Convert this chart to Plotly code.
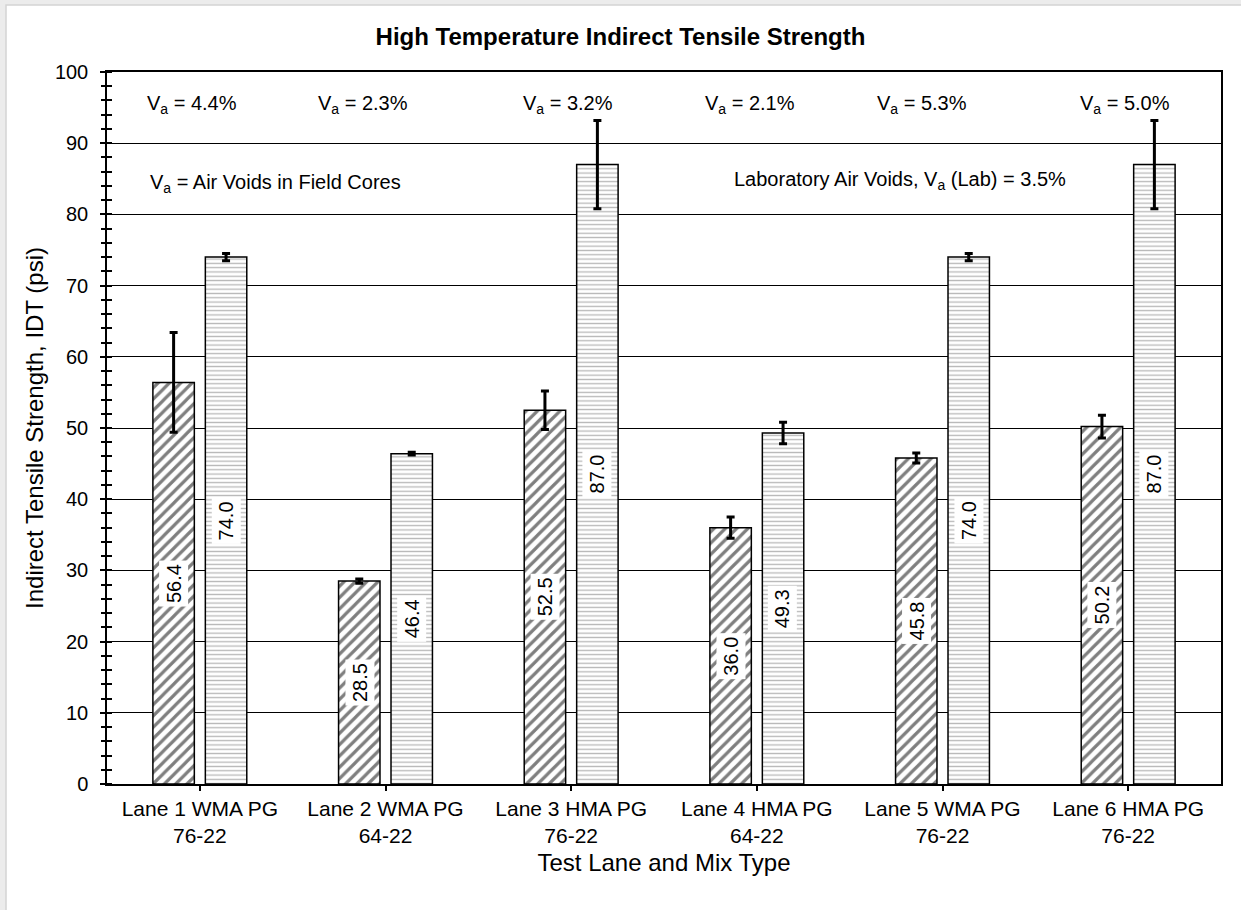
import plotly.graph_objects as go

# Lanes and mix types (two-line category labels)
lanes = [
    "Lane 1 WMA PG<br>76-22",
    "Lane 2 WMA PG<br>64-22",
    "Lane 3 HMA PG<br>76-22",
    "Lane 4 HMA PG<br>64-22",
    "Lane 5 WMA PG<br>76-22",
    "Lane 6 HMA PG<br>76-22",
]

# IDT of field cores (hatched) and lab-compacted specimens (horizontal lines), psi
field_idt = [56.4, 28.5, 52.5, 36.0, 45.8, 50.2]
field_err = [7.0, 0.3, 2.7, 1.5, 0.7, 1.6]
lab_idt = [74.0, 46.4, 87.0, 49.3, 74.0, 87.0]
lab_err = [0.5, 0.2, 6.2, 1.5, 0.5, 6.2]

# Air voids of field cores per lane
field_voids = ["4.4%", "2.3%", "3.2%", "2.1%", "5.3%", "5.0%"]
void_label_shift = [-8, -23, -3, -7, -21, -3]

FONT = "Liberation Sans, Arial, sans-serif"
INK = "#000000"

# plot-area geometry in pixels (used for the page frame)
W, H = 1241, 910
ML, MR, MT, MB = 107, 20, 72, 126
PW, PH = W - ML - MR, H - MT - MB


def px_to_paper_x(px):
    return (px - ML) / PW


def px_to_paper_y(py):
    return (H - MB - py) / PH


fig = go.Figure()

fig.add_trace(go.Bar(
    x=lanes, y=field_idt, name="Field cores",
    marker=dict(
        color="white",
        line=dict(color=INK, width=1.5),
        pattern=dict(shape="/", fgcolor=INK, bgcolor="white", size=8, solidity=0.4),
    ),
    error_y=dict(type="data", array=field_err, color=INK, thickness=3, width=4),
    showlegend=False,
))
fig.add_trace(go.Bar(
    x=lanes, y=lab_idt, name="Lab specimens",
    marker=dict(
        color="white",
        line=dict(color=INK, width=1.5),
        pattern=dict(shape="-", fgcolor="#707070", bgcolor="white", size=4.3, solidity=0.3),
    ),
    error_y=dict(type="data", array=lab_err, color=INK, thickness=3, width=4),
    showlegend=False,
))
# helper trace so the overlaid tick axis is drawn
fig.add_trace(go.Scatter(x=[lanes[0]], y=[None], yaxis="y2", showlegend=False,
                         hoverinfo="skip", mode="markers"))

annotations = []
bar_offset = 26
for lane, v in zip(lanes, field_idt):
    annotations.append(dict(x=lane, y=v / 2, xref="x", yref="y", text=f"{v:.1f}",
                            textangle=-90, showarrow=False, xshift=-bar_offset,
                            bgcolor="white", borderpad=3,
                            font=dict(family=FONT, size=20, color=INK)))
for lane, v in zip(lanes, lab_idt):
    annotations.append(dict(x=lane, y=v / 2, xref="x", yref="y", text=f"{v:.1f}",
                            textangle=-90, showarrow=False, xshift=bar_offset,
                            bgcolor="white", borderpad=3,
                            font=dict(family=FONT, size=20, color=INK)))
for lane, va, dx in zip(lanes, field_voids, void_label_shift):
    annotations.append(dict(x=lane, y=95.5, xref="x", yref="y",
                            text=f"V<sub>a</sub> = {va}", showarrow=False, xshift=dx,
                            font=dict(family=FONT, size=20, color=INK)))
annotations.append(dict(x=px_to_paper_x(148), y=84.4, xref="paper", yref="y",
                        xanchor="left", text="V<sub>a</sub> = Air Voids in Field Cores",
                        showarrow=False, font=dict(family=FONT, size=20, color=INK)))
annotations.append(dict(x=px_to_paper_x(900), y=84.7, xref="paper", yref="y",
                        xanchor="center",
                        text="Laboratory Air Voids, V<sub>a</sub> (Lab) = 3.5%",
                        showarrow=False, font=dict(family=FONT, size=20, color=INK)))

fig.update_layout(
    width=W, height=H,
    margin=dict(l=ML, r=MR, t=MT, b=MB),
    paper_bgcolor="#ececec",
    plot_bgcolor="white",
    barmode="group",
    bargap=0.435,
    bargroupgap=0.21,
    font=dict(family=FONT, size=21, color=INK),
    title=dict(text="<b>High Temperature Indirect Tensile Strength</b>",
               x=0.5, xanchor="center", y=1 - 37 / H, yanchor="middle",
               font=dict(family=FONT, size=24, color=INK)),
    xaxis=dict(
        showline=True, linecolor=INK, linewidth=1.5, mirror=True,
        ticks="outside", ticklen=5, tickcolor=INK, tickwidth=1.5,
        tickfont=dict(family=FONT, size=21, color=INK),
        title=dict(text="Test Lane and Mix Type", font=dict(family=FONT, size=24, color=INK),
                   standoff=8),
        showgrid=False,
    ),
    yaxis=dict(
        range=[0, 100], dtick=10,
        showline=True, linecolor=INK, linewidth=1.5, mirror=True,
        ticks="outside", ticklen=5, tickcolor=INK, tickwidth=1.5,
        ticklabelstandoff=8,
        minor=dict(dtick=2, ticks="inside", ticklen=5, tickcolor=INK, tickwidth=1.5),
        showgrid=True, gridcolor=INK, gridwidth=1.3,
        zeroline=False,
        tickfont=dict(family=FONT, size=20, color=INK),
        title=dict(text="Indirect Tensile Strength, IDT (psi)",
                   font=dict(family=FONT, size=24, color=INK), standoff=4),
    ),
    yaxis2=dict(
        overlaying="y", side="left", range=[0, 100], dtick=2,
        ticks="outside", ticklen=5, tickcolor=INK, tickwidth=1.5,
        showticklabels=False, showgrid=False, zeroline=False, showline=False,
    ),
    annotations=annotations,
    shapes=[dict(type="rect", xref="paper", yref="paper", layer="below",
                 x0=px_to_paper_x(6), x1=px_to_paper_x(W + 10),
                 y0=px_to_paper_y(H + 10), y1=px_to_paper_y(5),
                 fillcolor="white", line=dict(color="#d4d4d4", width=1.5))],
)

fig.write_html("out.html")
